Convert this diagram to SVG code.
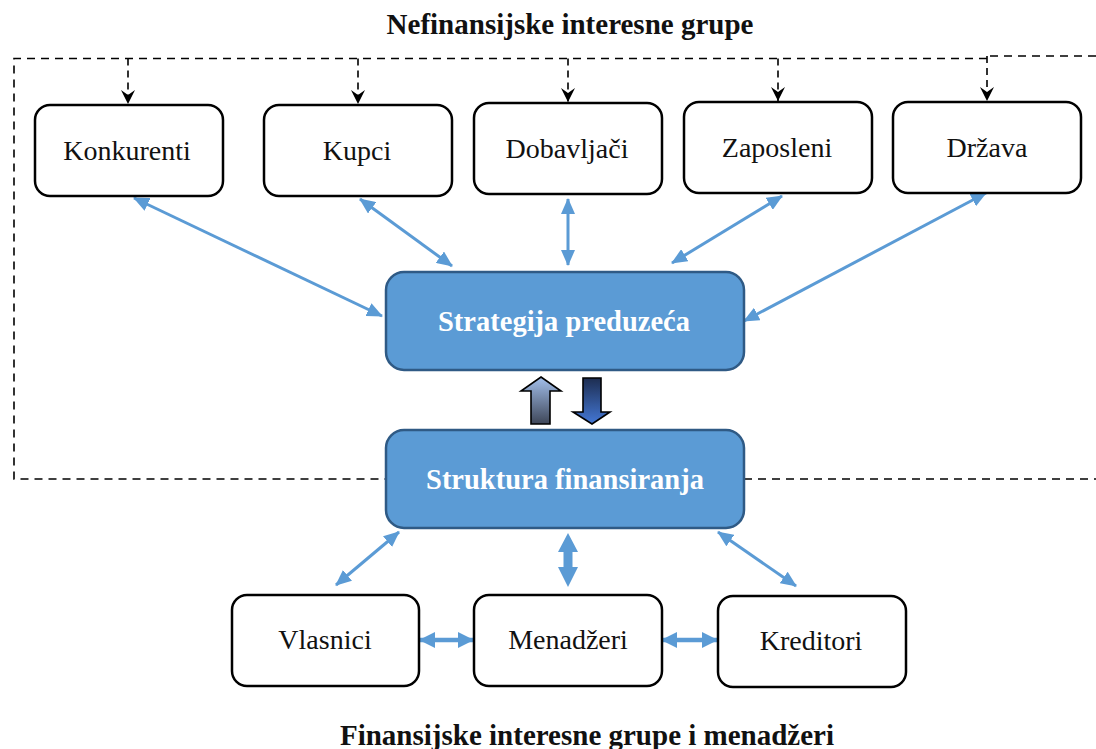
<svg xmlns="http://www.w3.org/2000/svg" width="1096" height="749" viewBox="0 0 1096 749">
  <defs>
    <style>
      .box { fill: #ffffff; stroke: #000000; stroke-width: 2.5; }
      .core { fill: #5b9bd5; stroke: #2f5a85; stroke-width: 2.5; }
      .lbl { font-family: "Liberation Serif", "Times New Roman", serif; font-size: 28px; fill: #111111; text-anchor: middle; }
      .core-lbl { font-family: "Liberation Serif", "Times New Roman", serif; font-size: 28.5px; font-weight: bold; fill: #ffffff; text-anchor: middle; }
      .title { font-family: "Liberation Serif", "Times New Roman", serif; font-size: 29px; font-weight: bold; fill: #111111; text-anchor: middle; }
      .dash { fill: none; stroke: #000000; stroke-width: 1.6; stroke-dasharray: 8 6; }
      .drop { fill: none; stroke: #000000; stroke-width: 1.6; stroke-dasharray: 7 5; marker-end: url(#blackHead); }
      .link { fill: none; stroke: #5b9bd5; stroke-width: 3; marker-start: url(#blueHead); marker-end: url(#blueHead); }
      .hlink { fill: none; stroke: #5b9bd5; stroke-width: 4.5; marker-start: url(#blueHeadWide); marker-end: url(#blueHeadWide); }
    </style>
    <marker id="blueHead" markerUnits="userSpaceOnUse" markerWidth="16" markerHeight="14" viewBox="0 0 16 14" refX="15" refY="7" orient="auto-start-reverse">
      <path d="M0,0 L16,7 L0,14 z" fill="#5b9bd5"/>
    </marker>
    <marker id="blueHeadWide" markerUnits="userSpaceOnUse" markerWidth="16" markerHeight="16" viewBox="0 0 16 16" refX="15" refY="8" orient="auto-start-reverse">
      <path d="M0,0 L16,8 L0,16 z" fill="#5b9bd5"/>
    </marker>
    <marker id="blackHead" markerUnits="userSpaceOnUse" markerWidth="14" markerHeight="14" viewBox="0 0 14 14" refX="14" refY="7" orient="auto">
      <path d="M14,7 L0,0 L5,7 L0,14 z" fill="#000000"/>
    </marker>
    <linearGradient id="upFill" x1="0" y1="0" x2="0" y2="1">
      <stop offset="0" stop-color="#a3c0ec"/>
      <stop offset="1" stop-color="#3e4658"/>
    </linearGradient>
    <linearGradient id="downFill" x1="0" y1="0" x2="0" y2="1">
      <stop offset="0" stop-color="#1d2d50"/>
      <stop offset="1" stop-color="#4478d6"/>
    </linearGradient>
  </defs>

  <rect width="1096" height="749" fill="#ffffff"/>

  <!-- group titles -->
  <text class="title" x="570" y="34">Nefinansijske interesne grupe</text>
  <text class="title" x="587" y="745">Finansijske interesne grupe i menadžeri</text>

  <!-- dashed boundary of the non-financial group and drop arrows -->
  <g id="boundary">
    <path class="dash" d="M1096,56 H987"/>
    <path class="dash" d="M987,58.5 H14 V479 H386"/>
    <path class="dash" d="M744,479 H1096"/>
    <path class="drop" d="M128,58.5 V104"/>
    <path class="drop" d="M358,58.5 V104"/>
    <path class="drop" d="M568,58.5 V102"/>
    <path class="drop" d="M778,58.5 V101"/>
    <path class="drop" d="M987,56 V101"/>
  </g>

  <!-- connectors -->
  <g id="connectors">
    <line class="link" x1="134" y1="198" x2="382" y2="316"/>
    <line class="link" x1="360" y1="199" x2="452" y2="266"/>
    <line class="link" x1="568" y1="199" x2="568" y2="265"/>
    <line class="link" x1="782" y1="196" x2="672" y2="263"/>
    <line class="link" x1="986" y1="193" x2="744" y2="321"/>
    <line class="link" x1="399" y1="532" x2="336" y2="585"/>
    <line class="link" x1="718" y1="532" x2="796" y2="586"/>
    <polygon points="568,533 578,552 572.5,552 572.5,567 578,567 568,587 558,567 563.5,567 563.5,552 558,552" fill="#5b9bd5"/>
    <line class="hlink" x1="420" y1="640" x2="473" y2="640"/>
    <line class="hlink" x1="662" y1="640" x2="717" y2="640"/>
    <!-- block arrows between strategy and financing structure -->
    <polygon points="541,377 561,391 550,391 550,424 531,424 531,391 521,391" fill="url(#upFill)" stroke="#000000" stroke-width="1.6" stroke-linejoin="miter"/>
    <polygon points="583,378 601,378 601,412 610,412 592,424 573,412 583,412" fill="url(#downFill)" stroke="#000000" stroke-width="1.6" stroke-linejoin="miter"/>
  </g>

  <g id="konkurenti">
    <rect class="box" x="35" y="105" width="188" height="91" rx="15"/>
    <text class="lbl" x="127" y="160">Konkurenti</text>
  </g>
  <g id="kupci">
    <rect class="box" x="264" y="105" width="188" height="91" rx="15"/>
    <text class="lbl" x="357" y="160">Kupci</text>
  </g>
  <g id="dobavljaci">
    <rect class="box" x="474" y="103" width="188" height="91" rx="15"/>
    <text class="lbl" x="567" y="158">Dobavljači</text>
  </g>
  <g id="zaposleni">
    <rect class="box" x="684" y="102" width="188" height="91" rx="15"/>
    <text class="lbl" x="777" y="157">Zaposleni</text>
  </g>
  <g id="drzava">
    <rect class="box" x="893" y="102" width="188" height="91" rx="15"/>
    <text class="lbl" x="987" y="157">Država</text>
  </g>

  <g id="strategija">
    <rect class="core" x="386" y="272" width="358" height="98" rx="18"/>
    <text class="core-lbl" x="564" y="331">Strategija preduzeća</text>
  </g>
  <g id="struktura">
    <rect class="core" x="386" y="430" width="358" height="98" rx="18"/>
    <text class="core-lbl" x="565" y="489">Struktura finansiranja</text>
  </g>

  <g id="vlasnici">
    <rect class="box" x="232" y="595" width="187" height="91" rx="15"/>
    <text class="lbl" x="325" y="649">Vlasnici</text>
  </g>
  <g id="menadzeri">
    <rect class="box" x="474" y="595" width="188" height="91" rx="15"/>
    <text class="lbl" x="568" y="649">Menadžeri</text>
  </g>
  <g id="kreditori">
    <rect class="box" x="718" y="596" width="188" height="91" rx="15"/>
    <text class="lbl" x="811" y="650">Kreditori</text>
  </g>
</svg>
